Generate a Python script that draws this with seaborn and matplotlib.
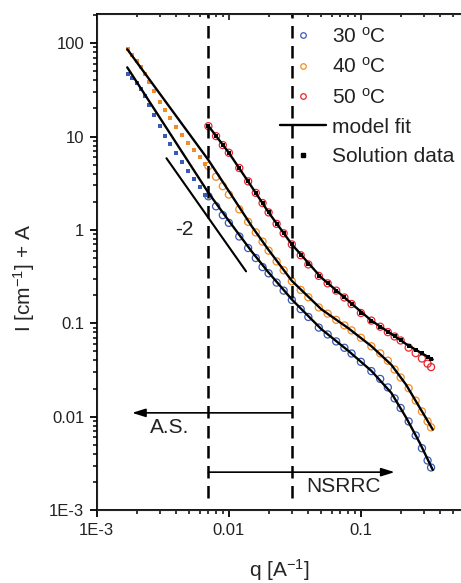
import matplotlib
matplotlib.use('Agg')
import matplotlib.pyplot as plt
import seaborn as sns
from matplotlib.lines import Line2D
from matplotlib.ticker import FixedLocator, LogLocator, NullFormatter

# low-q (A.S.) data, filled squares
q_low = [0.00171, 0.00185, 0.0020, 0.00215, 0.0023, 0.0025, 0.0027, 0.0030,
         0.0033, 0.0036, 0.0040, 0.0044, 0.0049, 0.0054, 0.0060, 0.0066]
i30_low = [47, 42, 37, 32, 27, 21.5, 17, 12.8, 10.2, 8.3, 6.6, 5.3, 4.3, 3.5, 2.9, 2.35]
i40_low = [86, 74, 64, 55, 47, 38, 31, 23.5, 19, 15.8, 12.6, 10.4, 8.5, 7.1, 6.0, 5.1]

# NSRRC data, open circles
q_high = [0.007, 0.008, 0.009, 0.010, 0.012, 0.014, 0.016, 0.018, 0.020, 0.023,
          0.026, 0.030, 0.035, 0.040, 0.048, 0.056, 0.065, 0.075, 0.085, 0.10,
          0.12, 0.14, 0.16, 0.18, 0.20, 0.23, 0.26, 0.29, 0.32, 0.34]
i30 = [2.29, 1.79, 1.44, 1.19, 0.85, 0.64, 0.50, 0.40, 0.343, 0.273,
       0.224, 0.178, 0.142, 0.117, 0.090, 0.076, 0.064, 0.0547, 0.0475, 0.0387,
       0.0308, 0.0254, 0.0206, 0.0157, 0.0124, 0.0089, 0.0063, 0.0046, 0.0034, 0.00286]
i40 = [4.83, 3.71, 2.94, 2.39, 1.66, 1.22, 0.94, 0.75, 0.60, 0.46,
       0.37, 0.282, 0.228, 0.190, 0.148, 0.127, 0.109, 0.095, 0.084, 0.070,
       0.0568, 0.0477, 0.0398, 0.032, 0.0263, 0.0202, 0.0149, 0.0114, 0.0089, 0.0077]
i50 = [12.9, 10.1, 8.1, 6.7, 4.6, 3.31, 2.49, 1.94, 1.54, 1.16,
       0.92, 0.70, 0.536, 0.427, 0.322, 0.268, 0.224, 0.189, 0.161, 0.129,
       0.107, 0.092, 0.0805, 0.0723, 0.0655, 0.055, 0.048, 0.042, 0.037, 0.034]
sol50 = [12.9, 10.1, 8.1, 6.7, 4.6, 3.31, 2.49, 1.94, 1.54, 1.16,
         0.92, 0.70, 0.536, 0.427, 0.322, 0.268, 0.224, 0.189, 0.161, 0.129,
         0.107, 0.092, 0.0805, 0.0723, 0.0655, 0.0574, 0.0519, 0.0477, 0.044, 0.042]

# model fits
q_fit = [0.0017, 0.007, 0.010, 0.015, 0.020, 0.030, 0.050, 0.080, 0.12, 0.17, 0.22, 0.28, 0.35]
fit30 = [55, 2.5, 1.25, 0.58, 0.35, 0.18, 0.087, 0.051, 0.031, 0.018, 0.0098, 0.0052, 0.0027]
fit40 = [86, 5.6, 2.6, 1.08, 0.61, 0.285, 0.142, 0.089, 0.057, 0.036, 0.022, 0.0124, 0.0073]
q_fit50 = [0.007, 0.010, 0.015, 0.020, 0.030, 0.050, 0.080, 0.12, 0.17, 0.22, 0.28, 0.35]
fit50 = [13.0, 6.7, 2.85, 1.54, 0.70, 0.31, 0.175, 0.107, 0.077, 0.060, 0.049, 0.041]

labels = ['30 $^{\\rm o}$C', '40 $^{\\rm o}$C', '50 $^{\\rm o}$C']
colors = ['#3A5BB5', '#F28C28', '#E8262E']

sns.set_style('ticks')
plt.rcParams['font.family'] = ['Liberation Sans', 'DejaVu Sans']
plt.rcParams['mathtext.fontset'] = 'custom'
plt.rcParams['mathtext.rm'] = 'Liberation Sans'
plt.rcParams['mathtext.it'] = 'Liberation Sans:italic'
plt.rcParams['text.color'] = '#222222'

fig = plt.figure(figsize=(4.61, 5.83), dpi=100)
ax = fig.add_axes([0.210, 0.125, 0.790, 0.851])
ax.set_xscale('log')
ax.set_yscale('log')

# low q squares
sns.scatterplot(x=q_low, y=i30_low, marker='s', s=12, color=colors[0], linewidth=0, ax=ax)
sns.scatterplot(x=q_low, y=i40_low, marker='s', s=12, color=colors[1], linewidth=0, ax=ax)

# open circles
for yv, c in zip([i30, i40, i50], colors):
    sns.scatterplot(x=q_high, y=yv, marker='o', s=26, color=c, facecolor='none',
                    edgecolor=c, linewidth=0.9, ax=ax)

# fits
sns.lineplot(x=q_fit, y=fit30, color='black', linewidth=1.7, sort=False, estimator=None, ax=ax)
sns.lineplot(x=q_fit, y=fit40, color='black', linewidth=1.7, sort=False, estimator=None, ax=ax)
sns.lineplot(x=q_fit50, y=fit50, color='black', linewidth=1.7, sort=False, estimator=None, ax=ax)
sns.scatterplot(x=q_high, y=sol50, marker='s', s=12, color='black', linewidth=0, ax=ax)

ax.set_xlim(1e-3, 0.573)
ax.set_ylim(1e-3, 205)

# q-range boundaries
for xv in [0.007, 0.03]:
    ax.plot([xv, xv], [0.00135, 205], color='black', linewidth=1.8, dashes=(5, 3))

# slope -2 guide
ax.plot([0.00337, 0.0135], [5.85, 0.36], color='black', linewidth=1.5)
ax.text(0.0046, 1.0, '-2', fontsize=15, ha='center', va='center')

# arrows
ax.annotate('', xy=(0.00185, 0.011), xytext=(0.03, 0.011),
            arrowprops=dict(arrowstyle='-|>,head_length=0.8,head_width=0.25',
                            color='black', lw=1.2, shrinkA=0, shrinkB=0))
ax.text(0.00357, 0.0076, 'A.S.', fontsize=15, ha='center', va='center')
ax.annotate('', xy=(0.18, 0.00255), xytext=(0.007, 0.00255),
            arrowprops=dict(arrowstyle='-|>,head_length=0.8,head_width=0.25',
                            color='black', lw=1.2, shrinkA=0, shrinkB=0))
ax.text(0.0743, 0.00177, 'NSRRC', fontsize=15, ha='center', va='center')

# axes styling
ax.spines['right'].set_visible(False)
for sp in ['left', 'bottom', 'top']:
    ax.spines[sp].set_linewidth(1.3)
    ax.spines[sp].set_color('black')

ax.xaxis.set_major_locator(FixedLocator([1e-3, 1e-2, 1e-1]))
ax.set_xticklabels(['1E-3', '0.01', '0.1'])
ax.yaxis.set_major_locator(FixedLocator([1e-3, 1e-2, 1e-1, 1, 10, 100]))
ax.set_yticklabels(['1E-3', '0.01', '0.1', '1', '10', '100'])
ax.xaxis.set_minor_locator(LogLocator(base=10, subs=range(2, 10)))
ax.yaxis.set_minor_locator(LogLocator(base=10, subs=range(2, 10)))
ax.xaxis.set_minor_formatter(NullFormatter())
ax.yaxis.set_minor_formatter(NullFormatter())
ax.tick_params(which='major', direction='out', length=5, width=1.3, labelsize=12,
               pad=4, colors='black', labelcolor='#222222')
ax.tick_params(which='minor', direction='out', length=3.2, width=1.1, colors='black')

ax2 = ax.twiny()
ax2.set_xscale('log')
ax2.set_xlim(ax.get_xlim())
ax2.spines['right'].set_visible(False)
ax2.xaxis.set_major_locator(FixedLocator([1e-3, 1e-2, 1e-1]))
ax2.xaxis.set_minor_locator(LogLocator(base=10, subs=range(2, 10)))
ax2.xaxis.set_minor_formatter(NullFormatter())
ax2.tick_params(which='both', direction='in', labeltop=False, width=1.1, colors='black')
ax2.tick_params(which='major', length=4)
ax2.tick_params(which='minor', length=2.5)

ax.set_xlabel('q [A$^{-1}$]', fontsize=15)
ax.set_ylabel('I [cm$^{-1}$] + A', fontsize=15)
ax.xaxis.set_label_coords(0.5, -0.095)
ax.yaxis.set_label_coords(-0.163, 0.468)

handles = [Line2D([], [], linestyle='none', marker='o', markersize=4, markerfacecolor='none',
                  markeredgecolor=c, markeredgewidth=0.9) for c in colors]
handles.append(Line2D([], [], color='black', linewidth=1.7))
handles.append(Line2D([], [], linestyle='none', marker='s', markersize=2.5, color='black'))
ax.legend(handles, labels + ['model fit', 'Solution data'], loc='upper left',
          bbox_to_anchor=(0.503, 0.975), frameon=False, fontsize=15, handlelength=2.2,
          handletextpad=0.3, labelspacing=0.5, borderpad=0, borderaxespad=0)

fig.savefig('out.png', dpi=100)
